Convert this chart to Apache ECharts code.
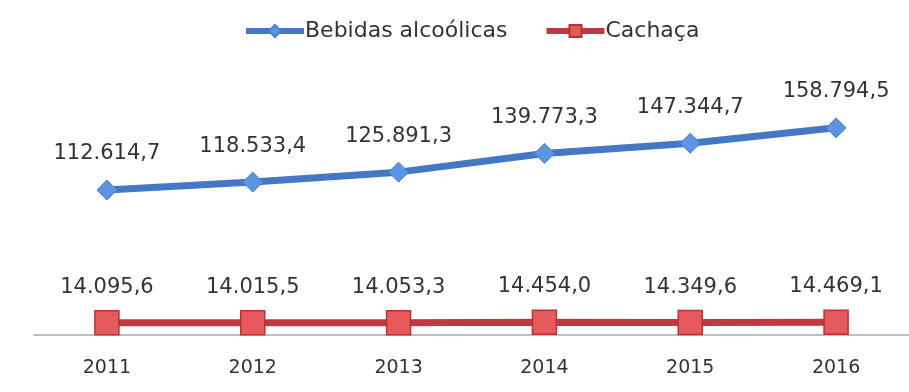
<!DOCTYPE html>
<html>
<head>
<meta charset="utf-8">
<script src="https://cdn.jsdelivr.net/npm/echarts@6/dist/echarts.min.js"></script>
<style>
  html, body { margin: 0; padding: 0; background: #fff; }
  #chart { width: 909px; height: 392px; }
</style>
</head>
<body>
<div id="chart"></div>
<script>
var years = ['2011', '2012', '2013', '2014', '2015', '2016']
var bebidas = [112614.7, 118533.4, 125891.3, 139773.3, 147344.7, 158794.5]
var cachaca = [14095.6, 14015.5, 14053.3, 14454.0, 14349.6, 14469.1]

// numbers shown the pt-BR way: 112.614,7
function fmt(v) {
  var parts = v.toFixed(1).split('.')
  return parts[0].replace(/\B(?=(\d{3})+(?!\d))/g, '.') + ',' + parts[1]
}

var chart = echarts.init(document.getElementById('chart'))
var font = 'DejaVu Sans, Verdana, sans-serif'

chart.setOption({
  animation: false,
  legend: {
    top: 15,
    left: 238,
    itemWidth: 58,
    itemHeight: 15,
    itemGap: 36,
    textStyle: { fontFamily: font, fontSize: 22, color: '#333', padding: [0, 0, 0, -4] },
    lineStyle: { width: 6 },
    data: ['Bebidas alcoólicas', 'Cachaça']
  },
  grid: {
    left: 34,
    right: 0,
    top: 106,
    bottom: 57
  },
  xAxis: {
    type: 'category',
    data: years,
    boundaryGap: true,
    axisLine: { lineStyle: { color: '#aaaaaa', width: 1.5 } },
    axisTick: { show: false },
    axisLabel: { fontFamily: font, fontSize: 19, color: '#333', margin: 24 }
  },
  yAxis: {
    type: 'value',
    min: 5000,
    max: 175000,
    show: false,
    splitLine: { show: false }
  },
  series: [
    {
      name: 'Bebidas alcoólicas',
      type: 'line',
      data: bebidas,
      symbol: 'diamond',
      symbolSize: 20,
      lineStyle: { color: '#4478c4', width: 7 },
      itemStyle: { color: '#5d95e0', borderColor: '#4a80cc', borderWidth: 1 },
      label: {
        show: true,
        position: 'top',
        distance: 15,
        fontFamily: font,
        fontSize: 21,
        color: '#333',
        formatter: function (p) { return fmt(p.value) }
      }
    },
    {
      name: 'Cachaça',
      type: 'line',
      data: cachaca,
      symbol: 'rect',
      symbolSize: 24,
      lineStyle: { color: '#c0393e', width: 7 },
      itemStyle: { color: '#e65a5c', borderColor: '#b83236', borderWidth: 1.5 },
      label: {
        show: true,
        position: 'top',
        distance: 12,
        fontFamily: font,
        fontSize: 21,
        color: '#333',
        formatter: function (p) { return fmt(p.value) }
      }
    }
  ]
})
</script>
</body>
</html>
